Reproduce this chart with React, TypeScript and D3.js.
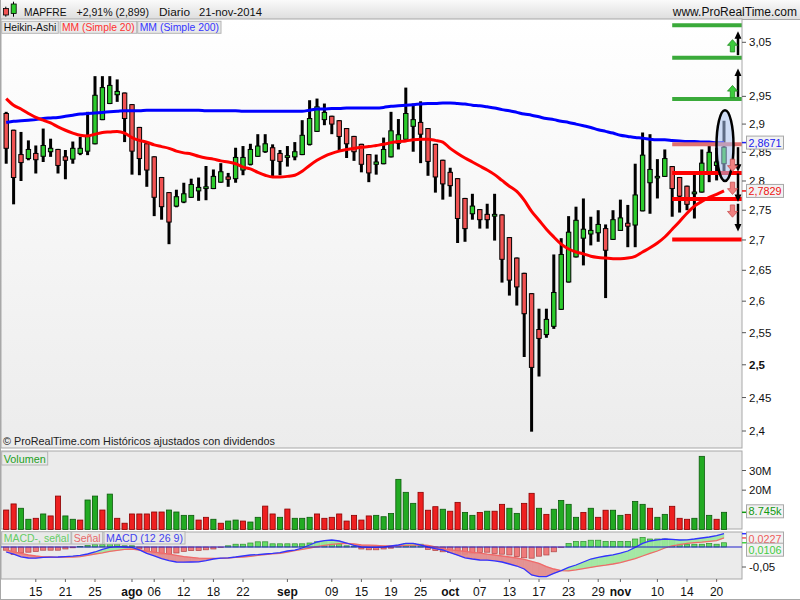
import * as d3 from 'd3';

const FONT = '"Liberation Sans", Arial, Helvetica, sans-serif';

// Heikin-Ashi candles, MAPFRE daily, 9-jul-2014 .. 21-nov-2014
const OPEN = [
  2.919, 2.889, 2.846, 2.839, 2.848, 2.843, 2.851, 2.855, 2.842, 2.838,
  2.848, 2.852, 2.865, 2.908, 2.937, 2.953, 2.956, 2.935, 2.894, 2.865,
  2.842, 2.806, 2.78, 2.757, 2.764, 2.772, 2.783, 2.787, 2.787, 2.798,
  2.807, 2.804, 2.819, 2.829, 2.843, 2.851, 2.858, 2.848, 2.841, 2.842,
  2.846, 2.864, 2.887, 2.908, 2.914, 2.906, 2.892, 2.878, 2.864, 2.846,
  2.829, 2.83, 2.842, 2.866, 2.873, 2.896, 2.903, 2.892, 2.864, 2.836,
  2.815, 2.804, 2.77, 2.744, 2.751, 2.743, 2.74, 2.742, 2.704, 2.67,
  2.645, 2.612, 2.555, 2.547, 2.56, 2.587, 2.631, 2.672, 2.703, 2.71,
  2.712, 2.719, 2.701, 2.716, 2.728, 2.725, 2.749, 2.797, 2.806, 2.808,
  2.825, 2.806, 2.791, 2.778, 2.781, 2.815, 2.827, 2.83,
];
const HIGH = [
  2.922, 2.89, 2.886, 2.871, 2.862, 2.892, 2.874, 2.856, 2.854, 2.869,
  2.877, 2.922, 2.987, 2.987, 2.987, 2.981, 2.957, 2.936, 2.895, 2.866,
  2.843, 2.807, 2.781, 2.785, 2.797, 2.804, 2.806, 2.826, 2.82, 2.831,
  2.814, 2.858, 2.861, 2.865, 2.882, 2.882, 2.864, 2.854, 2.861, 2.868,
  2.907, 2.943, 2.946, 2.937, 2.915, 2.907, 2.893, 2.879, 2.865, 2.847,
  2.846, 2.876, 2.922, 2.909, 2.966, 2.937, 2.941, 2.893, 2.865, 2.837,
  2.823, 2.805, 2.771, 2.778, 2.752, 2.761, 2.778, 2.743, 2.705, 2.671,
  2.646, 2.613, 2.588, 2.588, 2.676, 2.703, 2.74, 2.756, 2.77, 2.739,
  2.75, 2.726, 2.75, 2.768, 2.759, 2.83, 2.885, 2.882, 2.838, 2.855,
  2.826, 2.807, 2.792, 2.816, 2.855, 2.866, 2.858, 2.906,
];
const LOW = [
  2.83, 2.76, 2.8, 2.836, 2.813, 2.833, 2.842, 2.813, 2.803, 2.83,
  2.845, 2.845, 2.864, 2.907, 2.936, 2.94, 2.868, 2.811, 2.81, 2.79,
  2.74, 2.734, 2.693, 2.755, 2.762, 2.771, 2.766, 2.767, 2.786, 2.797,
  2.79, 2.797, 2.81, 2.827, 2.842, 2.849, 2.807, 2.81, 2.825, 2.836,
  2.845, 2.862, 2.886, 2.898, 2.882, 2.854, 2.84, 2.835, 2.815, 2.798,
  2.811, 2.829, 2.841, 2.855, 2.873, 2.851, 2.831, 2.809, 2.78, 2.768,
  2.773, 2.695, 2.697, 2.734, 2.719, 2.719, 2.699, 2.63, 2.609, 2.593,
  2.512, 2.399, 2.482, 2.542, 2.556, 2.586, 2.63, 2.671, 2.658, 2.691,
  2.697, 2.605, 2.7, 2.715, 2.688, 2.688, 2.748, 2.744, 2.77, 2.807,
  2.739, 2.746, 2.75, 2.736, 2.78, 2.798, 2.801, 2.813,
];
const CLOSE = [
  2.857, 2.806, 2.832, 2.855, 2.837, 2.862, 2.857, 2.827, 2.836, 2.857,
  2.857, 2.878, 2.952, 2.966, 2.97, 2.959, 2.91, 2.852, 2.839, 2.819,
  2.772, 2.756, 2.73, 2.773, 2.778, 2.794, 2.789, 2.79, 2.808, 2.816,
  2.803, 2.841, 2.841, 2.855, 2.861, 2.865, 2.836, 2.834, 2.844, 2.851,
  2.88, 2.91, 2.931, 2.921, 2.9, 2.878, 2.865, 2.851, 2.829, 2.814,
  2.833, 2.855, 2.888, 2.881, 2.919, 2.908, 2.882, 2.834, 2.807, 2.795,
  2.792, 2.736, 2.719, 2.757, 2.734, 2.734, 2.743, 2.668, 2.634, 2.623,
  2.58, 2.496, 2.541, 2.571, 2.614, 2.676, 2.713, 2.733, 2.718, 2.716,
  2.726, 2.683, 2.734, 2.737, 2.723, 2.776, 2.845, 2.82, 2.808, 2.839,
  2.787, 2.774, 2.76, 2.781, 2.831, 2.85, 2.833, 2.859,
];

const MA20 = [
  2.946, 2.934, 2.927, 2.919, 2.912, 2.907, 2.902, 2.895, 2.889, 2.884,
  2.88, 2.879, 2.882, 2.885, 2.886, 2.887, 2.884, 2.876, 2.871, 2.868,
  2.863, 2.86, 2.857, 2.852, 2.849, 2.847, 2.843, 2.84, 2.838, 2.835,
  2.833, 2.83, 2.824, 2.821, 2.815, 2.81, 2.807, 2.807, 2.808, 2.81,
  2.817, 2.827, 2.836, 2.843, 2.848, 2.852, 2.855, 2.857, 2.859, 2.86,
  2.862, 2.864, 2.867, 2.869, 2.87, 2.872, 2.873, 2.873, 2.871, 2.868,
  2.857, 2.848, 2.84, 2.833, 2.826, 2.819, 2.811, 2.801, 2.791, 2.782,
  2.767, 2.748, 2.733, 2.718, 2.705, 2.693, 2.685, 2.68, 2.677, 2.673,
  2.671, 2.67, 2.669, 2.669, 2.67, 2.673, 2.68, 2.687, 2.695, 2.705,
  2.718, 2.731, 2.745, 2.757, 2.765, 2.772, 2.777, 2.7829,
];
const MA200 = [
  2.903, 2.905, 2.906, 2.907, 2.908, 2.91, 2.911, 2.912, 2.914, 2.916,
  2.918, 2.919, 2.92, 2.921, 2.922, 2.923, 2.924, 2.924, 2.924, 2.925,
  2.925, 2.925, 2.925, 2.925, 2.925, 2.925, 2.925, 2.924, 2.924, 2.924,
  2.924, 2.924, 2.923, 2.923, 2.923, 2.923, 2.923, 2.923, 2.923, 2.923,
  2.923, 2.925, 2.927, 2.927, 2.928, 2.928, 2.929, 2.929, 2.929, 2.929,
  2.929, 2.93, 2.932, 2.933, 2.934, 2.935, 2.936, 2.937, 2.937, 2.938,
  2.938, 2.937, 2.936, 2.934, 2.933, 2.931, 2.929, 2.926, 2.924, 2.921,
  2.918, 2.916, 2.913, 2.91, 2.908, 2.905, 2.903, 2.9, 2.897, 2.894,
  2.89, 2.887, 2.884, 2.88, 2.878, 2.876, 2.875, 2.873, 2.872, 2.872,
  2.871, 2.87, 2.869, 2.869, 2.868, 2.868, 2.867, 2.8671,
];

// volume in millions, and day direction (g = up, r = down)
const VOLUME = [
  9.9, 13.0, 10.8, 5.2, 5.7, 7.9, 6.9, 17.0, 6.9, 5.2,
  4.8, 15.0, 17.0, 9.9, 18.0, 5.7, 3.2, 7.9, 7.9, 7.9,
  8.9, 8.9, 9.9, 8.9, 7.2, 7.2, 4.8, 6.2, 5.2, 3.2,
  4.3, 4.8, 4.3, 3.8, 6.2, 11.9, 7.9, 6.2, 10.4, 5.7,
  5.7, 6.2, 7.9, 5.7, 6.2, 7.9, 4.3, 7.2, 4.8, 6.9,
  7.2, 6.5, 8.1, 25.5, 18.9, 13.3, 18.9, 9.8, 11.6, 10.3,
  9.3, 13.8, 8.7, 7.2, 8.7, 9.3, 9.3, 12.8, 10.8, 8.2,
  13.3, 18.4, 10.8, 7.7, 10.3, 14.8, 12.8, 6.2, 8.7, 10.8,
  6.2, 9.8, 9.8, 7.2, 7.7, 14.3, 12.8, 10.8, 6.2, 7.7,
  11.8, 5.7, 5.2, 5.7, 37.2, 7.2, 5.2, 8.745,
];
const VOL_DIR =
  'rrggrgrrgg' + 'rggrgrrrrr' + 'rrggggrrgr' + 'ggrggrrgrg' + 'ggrrrrrrrr' +
  'ggggggrrrg' + 'rrggrgrrgg' + 'rrgrggggrg' + 'rrggrggrgg' + 'rrrgggrg';

// MACD (12 26 9)
const MACD = [
  -0.0125, -0.018, -0.0245, -0.0275, -0.028, -0.026, -0.0255, -0.025, -0.024, -0.023,
  -0.021, -0.0175, -0.0125, -0.006, -0.001, 0.001, 0, -0.001, -0.007, -0.016,
  -0.022, -0.029, -0.034, -0.0375, -0.038, -0.0375, -0.037, -0.034, -0.03, -0.028,
  -0.027, -0.025, -0.0225, -0.02, -0.019, -0.0175, -0.016, -0.014, -0.01, -0.008,
  -0.0025, 0.005, 0.0125, 0.016, 0.0175, 0.015, 0.01, 0.004, 0, -0.001,
  -0.001, 0, 0.0025, 0.005, 0.009, 0.009, 0.005, 0, -0.004, -0.0075,
  -0.014, -0.0205, -0.027, -0.03, -0.0325, -0.033, -0.0345, -0.0375, -0.0425, -0.0475,
  -0.055, -0.07, -0.074, -0.074, -0.066, -0.059, -0.051, -0.045, -0.0375, -0.03,
  -0.026, -0.0225, -0.0195, -0.0155, -0.01, -0.001, 0.009, 0.015, 0.018, 0.02,
  0.019, 0.0175, 0.018, 0.02, 0.0225, 0.025, 0.0285, 0.0333,
];
const SIGNAL = [
  -0.007, -0.012, -0.016, -0.02, -0.0225, -0.0245, -0.025, -0.026, -0.0255, -0.025,
  -0.024, -0.021, -0.0175, -0.0145, -0.011, -0.0085, -0.006, -0.005, -0.0075, -0.0105,
  -0.013, -0.0155, -0.018, -0.021, -0.024, -0.026, -0.028, -0.0285, -0.0285, -0.0285,
  -0.0275, -0.026, -0.025, -0.0235, -0.021, -0.019, -0.017, -0.016, -0.0125, -0.009,
  -0.006, -0.0025, 0.001, 0.004, 0.0065, 0.0085, 0.009, 0.0075, 0.005, 0.0045,
  0.004, 0.003, 0.0025, 0.0025, 0.004, 0.0045, 0.005, 0.004, 0, -0.004,
  -0.007, -0.009, -0.011, -0.0135, -0.0155, -0.018, -0.02, -0.0225, -0.025, -0.0275,
  -0.031, -0.036, -0.041, -0.049, -0.055, -0.059, -0.0595, -0.057, -0.054, -0.051,
  -0.048, -0.0455, -0.0425, -0.039, -0.034, -0.029, -0.0225, -0.016, -0.01, -0.0025,
  0.003, 0.006, 0.009, 0.011, 0.012, 0.014, 0.016, 0.0227,
];
const HIST = [
  -0.008, -0.019, -0.015, -0.013, -0.011, -0.008, -0.008, -0.008, -0.005, -0.002,
  0.001, 0.004, 0.006, 0.006, 0.008, 0.006, 0.003, 0.003, -0.005, -0.011,
  -0.015, -0.018, -0.018, -0.015, -0.011, -0.009, -0.009, -0.007, -0.005, -0.001,
  0.003, 0.007, 0.007, 0.01, 0.013, 0.013, 0.008, 0.008, 0.008, 0.008,
  0.008, 0.01, 0.013, 0.013, 0.01, 0.008, 0.003, 0.002, -0.005, -0.007,
  -0.007, -0.005, -0.003, 0.002, 0.008, 0.008, 0.007, -0.006, -0.009, -0.012,
  -0.014, -0.018, -0.018, -0.017, -0.014, -0.013, -0.016, -0.018, -0.02, -0.024,
  -0.027, -0.028, -0.023, -0.02, -0.012, -0.001, 0.009, 0.014, 0.014, 0.017,
  0.017, 0.014, 0.014, 0.014, 0.014, 0.02, 0.024, 0.02, 0.02, 0.02,
  0.017, 0.009, 0.007, 0.007, 0.007, 0.009, 0.007, 0.0106,
];

// x-axis labels: bar index, text, month start
const X_TICKS: [number, string, boolean][] = [
  [4, '15', false], [8, '21', false], [12, '25', false], [17, 'ago', true],
  [20, '06', false], [24, '12', false], [28, '18', false], [32, '22', false],
  [38, 'sep', true], [44, '09', false], [48, '15', false], [52, '19', false],
  [56, '25', false], [60, 'oct', true], [64, '07', false], [68, '13', false],
  [72, '17', false], [76, '23', false], [80, '29', false], [83, 'nov', true],
  [88, '10', false], [92, '14', false], [96, '20', false],
];
const PRICE_TICKS = [3.05, 2.95, 2.9, 2.85, 2.8, 2.75, 2.7, 2.65, 2.6, 2.55, 2.5, 2.45, 2.4];
const VOL_TICKS = [30, 20];
const MACD_TICKS = [-0.05];

// hand-drawn objects on the price panel
const GREEN_LEVELS = [3.082, 3.021, 2.945];
const RED_LEVELS = [2.814, 2.769, 2.701];
const PINK_LEVELS = [2.864];
const LEVEL_START = 90;
const UP_ARROWS = [[3.026, 3.071], [2.949, 3.001]];
const DOWN_ARROWS = [[2.859, 2.816], [2.813, 2.764], [2.761, 2.714]];
const UP_MARKS = [3.055, 2.97];
const DOWN_MARKS = [2.838, 2.798, 2.759];
const ELLIPSE = { i: 97, top: 2.925, bottom: 2.8 };

const N = OPEN.length;
const PL = 1;
const PR = 742;
const MAIN_T = 19;
const MAIN_B = 448;
const VOL_T = 451;
const VOL_B = 529;
const MACD_T = 532;
const MACD_B = 579;

const x = d3.scaleLinear().domain([0, N - 1]).range([6.2, 724]);
const yP = d3.scaleLog().domain([2.4, 3.05]).range([431, 42.3]);
const yV = d3.scaleLinear().domain([0, 30]).range([529.5, 470.5]);
const yM = d3.scaleLinear().domain([-0.05, 0]).range([567, 547]);

const comma = (v: number, d?: number) =>
  (d === undefined ? String(v) : v.toFixed(d)).replace('.', ',');

const GREEN = '#2ccc2c';
const RED = '#f05252';

function Legend({ x0, y0, w, h, color, label }: any) {
  return (
    <g>
      <rect x={x0} y={y0} width={w} height={h} fill="#e9e9e9" stroke="#b4b4b4" />
      <text
        x={x0 + 2}
        y={y0 + h - 2.5}
        fill={color}
        fontSize={10.5}
        textLength={w - 4}
        lengthAdjust="spacingAndGlyphs"
      >
        {label}
      </text>
    </g>
  );
}

function ValueBox({ y, color, label, tick }: any) {
  return (
    <g>
      <line x1={PR} x2={PR + 5} y1={tick ?? y} y2={tick ?? y} stroke={color} strokeWidth={1.5} />
      <rect x={746.5} y={y - 6.5} width={37} height={13} fill="#f2f2f2" stroke="#a8a8a8" />
      <text x={748.5} y={y + 4} fill={color} fontSize={11} textLength={33} lengthAdjust="spacingAndGlyphs">
        {label}
      </text>
    </g>
  );
}

export default function App() {
  const ma = (vals: number[]) =>
    d3
      .line<number>()
      .x((_, i) => x(i))
      .y((d) => yP(d))
      .curve(d3.curveMonotoneX)(vals) ?? '';
  const macdLine = (vals: number[]) =>
    d3
      .line<number>()
      .x((_, i) => x(i))
      .y((d) => yM(d))(vals) ?? '';

  const segs = d3.range(N - 1).map((i) => {
    const up = MACD[i] + MACD[i + 1] >= SIGNAL[i] + SIGNAL[i + 1];
    const pts = [
      [x(i), yM(MACD[i])],
      [x(i + 1), yM(MACD[i + 1])],
      [x(i + 1), yM(SIGNAL[i + 1])],
      [x(i), yM(SIGNAL[i])],
    ];
    return { up, d: 'M' + pts.map((p) => p.join(',')).join('L') + 'Z' };
  });

  const lvlX = x(LEVEL_START);
  const arrowX = PR - 4;
  const markX = PR - 9.5;
  const last = N - 1;

  return (
    <svg
      width={800}
      height={600}
      style={{ position: 'absolute', left: 0, top: 0, fontFamily: FONT }}
    >
      <defs>
        <linearGradient id="hdr" x1="0" y1="0" x2="0" y2="1">
          <stop offset="0" stopColor="#fafafa" />
          <stop offset="1" stopColor="#dedede" />
        </linearGradient>
        <linearGradient id="mainBg" x1="0" y1="0" x2="0" y2="1">
          <stop offset="0" stopColor="#ffffff" />
          <stop offset="1" stopColor="#ececec" />
        </linearGradient>
        <clipPath id="mainClip">
          <rect x={PL} y={MAIN_T} width={PR - PL} height={MAIN_B - MAIN_T} />
        </clipPath>
        <clipPath id="macdClip">
          <rect x={PL} y={MACD_T} width={PR - PL} height={MACD_B - MACD_T} />
        </clipPath>
      </defs>

      <rect width={800} height={600} fill="#ffffff" />

      {/* header */}
      <rect x={0} y={0} width={800} height={MAIN_T} fill="url(#hdr)" />
      <line x1={0} x2={800} y1={MAIN_T + 0.5} y2={MAIN_T + 0.5} stroke="#a8a8a8" />
      <g>
        <line x1={5.8} x2={5.8} y1={6.7} y2={16.7} stroke="#000" />
        <rect x={3.5} y={8.5} width={5} height={6.5} fill={RED} stroke="#000" strokeWidth={0.8} />
        <line x1={13.5} x2={13.5} y1={1.7} y2={16.7} stroke="#000" />
        <rect x={11.2} y={4} width={5} height={9.5} fill={GREEN} stroke="#000" strokeWidth={0.8} />
      </g>
      <g fontSize={11.5} fill="#111">
        <text x={24} y={15.5} textLength={42.5} lengthAdjust="spacingAndGlyphs">MAPFRE</text>
        <text x={76.5} y={15.5} textLength={72.5} lengthAdjust="spacingAndGlyphs">+2,91% (2,899)</text>
        <text x={159} y={15.5} textLength={31} lengthAdjust="spacingAndGlyphs">Diario</text>
        <text x={199} y={15.5} textLength={63} lengthAdjust="spacingAndGlyphs">21-nov-2014</text>
        <text x={797} y={15.5} fontSize={12} textAnchor="end">www.ProRealTime.com</text>
      </g>

      {/* price panel */}
      <rect x={PL} y={MAIN_T} width={PR - PL} height={MAIN_B - MAIN_T} fill="url(#mainBg)" />
      <g clipPath="url(#mainClip)">
        {OPEN.map((o, i) => {
          const c = CLOSE[i];
          const top = yP(Math.max(o, c));
          const bot = yP(Math.min(o, c));
          return (
            <g key={i}>
              <line
                x1={x(i)}
                x2={x(i)}
                y1={yP(HIGH[i])}
                y2={yP(LOW[i])}
                stroke="#000"
                strokeWidth={3}
              />
              <rect
                x={x(i) - 2.2}
                y={top}
                width={4.4}
                height={Math.max(bot - top, 1.5)}
                fill={c >= o ? GREEN : RED}
                stroke="#000"
                strokeWidth={1}
              />
            </g>
          );
        })}
        <path d={ma(MA200)} fill="none" stroke="#0000ff" strokeWidth={3} />
        <path d={ma(MA20)} fill="none" stroke="#ff0000" strokeWidth={3} />

        {GREEN_LEVELS.map((p) => (
          <line key={'g' + p} x1={lvlX} x2={PR} y1={yP(p)} y2={yP(p)} stroke="#3aaa3a" strokeWidth={4} />
        ))}
        {PINK_LEVELS.map((p) => (
          <line key={'p' + p} x1={lvlX} x2={PR} y1={yP(p)} y2={yP(p)} stroke="#e07070" strokeWidth={4} />
        ))}
        {RED_LEVELS.map((p) => (
          <line key={'r' + p} x1={lvlX} x2={PR} y1={yP(p)} y2={yP(p)} stroke="#ff0000" strokeWidth={4} />
        ))}

        <ellipse
          cx={x(ELLIPSE.i) + 1}
          cy={(yP(ELLIPSE.top) + yP(ELLIPSE.bottom)) / 2}
          rx={8.5}
          ry={(yP(ELLIPSE.bottom) - yP(ELLIPSE.top)) / 2}
          fill="rgba(170,195,240,0.55)"
          stroke="#000"
          strokeWidth={2.5}
        />

        {[...UP_ARROWS, ...DOWN_ARROWS].map(([a, b], k) => {
          const y1 = yP(a);
          const y2 = yP(b);
          const dir = y2 < y1 ? 1 : -1;
          return (
            <g key={'a' + k}>
              <line x1={arrowX} x2={arrowX} y1={y1} y2={y2 + dir * 4} stroke="#000" strokeWidth={2.5} />
              <path
                d={`M${arrowX - 3.5},${y2 + dir * 7.5}L${arrowX},${y2}L${arrowX + 3.5},${y2 + dir * 7.5}Z`}
                fill="#000"
              />
            </g>
          );
        })}
        {UP_MARKS.map((p) => {
          const t = yP(p);
          return (
            <path
              key={'u' + p}
              d={`M${markX},${t}L${markX + 5},${t + 5.7}L${markX + 2.2},${t + 5.7}L${markX + 2.2},${t + 12.3}L${markX - 2.2},${t + 12.3}L${markX - 2.2},${t + 5.7}L${markX - 5},${t + 5.7}Z`}
              fill="#3ccc3c"
              stroke="#1f8a1f"
              strokeWidth={0.8}
            />
          );
        })}
        {DOWN_MARKS.map((p) => {
          const t = yP(p);
          return (
            <path
              key={'d' + p}
              d={`M${markX - 2.2},${t}L${markX + 2.2},${t}L${markX + 2.2},${t + 6.5}L${markX + 5},${t + 6.5}L${markX},${t + 12.3}L${markX - 5},${t + 6.5}L${markX - 2.2},${t + 6.5}Z`}
              fill="#f08080"
              stroke="#c85050"
              strokeWidth={0.8}
            />
          );
        })}
      </g>
      <rect x={PL} y={MAIN_T} width={PR - PL} height={MAIN_B - MAIN_T} fill="none" stroke="#a8a8a8" />

      <Legend x0={1.7} y0={21.3} w={56.6} h={12} color="#111" label="Heikin-Ashi" />
      <Legend x0={60} y0={21.3} w={76.7} h={12} color="#ff3030" label="MM (Simple 20)" />
      <Legend x0={137.7} y0={21.3} w={83.3} h={12} color="#3535ff" label="MM (Simple 200)" />
      <text x={3} y={445} fontSize={11} fill="#222" textLength={272} lengthAdjust="spacingAndGlyphs">
        © ProRealTime.com  Históricos ajustados con dividendos
      </text>

      {PRICE_TICKS.map((p) => (
        <g key={p}>
          <line x1={PR} x2={PR + 4} y1={yP(p)} y2={yP(p)} stroke="#555" />
          <text x={749} y={yP(p) + 4} fontSize={11.5} fill="#111" fontWeight={p === 2.5 ? 'bold' : 'normal'}>
            {comma(p)}
          </text>
        </g>
      ))}
      <ValueBox y={yP(MA200[last])} color="#2020ee" label={comma(MA200[last], 4)} />
      <ValueBox y={yP(MA20[last])} color="#ee1111" label={comma(MA20[last], 4)} />

      {/* volume panel */}
      <rect x={PL} y={VOL_T} width={PR - PL} height={VOL_B - VOL_T} fill="#ebebeb" stroke="#a8a8a8" />
      {VOLUME.map((v, i) => (
        <rect
          key={i}
          x={x(i) - 2.6}
          y={yV(v)}
          width={5.2}
          height={yV(0) - yV(v)}
          fill={VOL_DIR[i] === 'g' ? '#22aa22' : '#ee2020'}
          stroke={VOL_DIR[i] === 'g' ? '#0b5a0b' : '#8a0000'}
          strokeWidth={0.8}
        />
      ))}
      <Legend x0={1.7} y0={451.7} w={46} h={13.3} color="#22a022" label="Volumen" />
      {VOL_TICKS.map((v) => (
        <g key={v}>
          <line x1={PR} x2={PR + 4} y1={yV(v)} y2={yV(v)} stroke="#555" />
          <text x={749} y={yV(v) + 4} fontSize={11.5} fill="#111">{`${v}M`}</text>
        </g>
      ))}
      <ValueBox y={yV(VOLUME[last]) - 1} tick={yV(VOLUME[last])} color="#119911" label={`${VOLUME[last].toFixed(3)}k`} />

      {/* MACD panel */}
      <rect x={PL} y={MACD_T} width={PR - PL} height={MACD_B - MACD_T} fill="#ebebeb" stroke="#a8a8a8" />
      <g clipPath="url(#macdClip)">
        {HIST.map((h, i) => (
          <rect
            key={i}
            x={x(i) - 2.6}
            y={Math.min(yM(h), yM(0))}
            width={5.2}
            height={Math.abs(yM(h) - yM(0))}
            fill={h >= 0 ? '#66dd66' : '#ef7b7b'}
            stroke={h >= 0 ? '#2f8f2f' : '#b04545'}
            strokeWidth={0.7}
          />
        ))}
        {segs.map((s, i) => (
          <path key={i} d={s.d} fill={s.up ? '#9ee89e' : '#e48a8a'} stroke={s.up ? '#9ee89e' : '#e48a8a'} strokeWidth={0.5} opacity={0.9} />
        ))}
        <path d={macdLine(SIGNAL)} fill="none" stroke="#f06a6a" strokeWidth={1.3} />
        <path d={macdLine(MACD)} fill="none" stroke="#3232ff" strokeWidth={1.3} />
        <line x1={PL} x2={PR} y1={yM(0)} y2={yM(0)} stroke="#2222cc" strokeWidth={1.2} />
      </g>
      <Legend x0={1.7} y0={531.7} w={69.3} h={12.3} color="#66cc66" label="MACD-, señal" />
      <Legend x0={71.7} y0={531.7} w={31} h={12.3} color="#e86a6a" label="Señal" />
      <Legend x0={104} y0={531.7} w={81} h={12.3} color="#4444ee" label="MACD (12 26 9)" />
      {MACD_TICKS.map((v) => (
        <g key={v}>
          <line x1={PR} x2={PR + 4} y1={yM(v)} y2={yM(v)} stroke="#555" />
          <text x={749} y={yM(v) + 4} fontSize={11.5} fill="#111">{comma(v)}</text>
        </g>
      ))}
      <line x1={PR} x2={PR + 5} y1={yM(MACD[last])} y2={yM(MACD[last])} stroke="#3232ff" strokeWidth={1.5} />
      <ValueBox y={538.5} tick={yM(SIGNAL[last])} color="#ee5a5a" label={comma(SIGNAL[last], 4)} />
      <ValueBox y={549.7} tick={yM(HIST[last])} color="#44cc44" label={comma(HIST[last], 4)} />

      {/* date axis */}
      {X_TICKS.map(([i, label, month]) => (
        <g key={i}>
          <line x1={x(i)} x2={x(i)} y1={MACD_B} y2={MACD_B + 3} stroke="#666" />
          <text
            x={x(i)}
            y={596}
            fontSize={12}
            textAnchor="middle"
            fill="#111"
            fontWeight={month ? 'bold' : 'normal'}
          >
            {label}
          </text>
        </g>
      ))}
      <line x1={0} x2={800} y1={599.5} y2={599.5} stroke="#a8a8a8" />
      <line x1={0.5} x2={0.5} y1={0} y2={600} stroke="#a8a8a8" />
    </svg>
  );
}
